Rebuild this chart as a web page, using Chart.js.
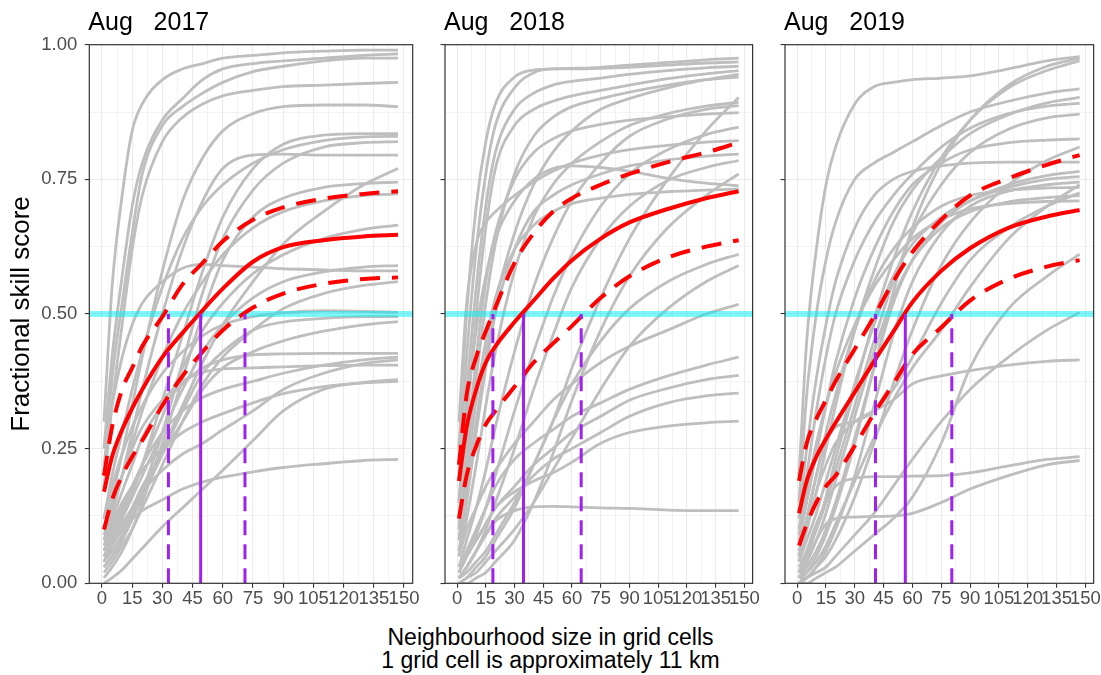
<!DOCTYPE html>
<html>
<head>
<meta charset="utf-8">
<title>Fractional skill score by neighbourhood size</title>
<script src="https://cdn.jsdelivr.net/npm/chart.js@4.4.1/dist/chart.umd.min.js"></script>
<style>
  html, body { margin: 0; padding: 0; background: #ffffff; }
  body { position: relative; width: 1101px; height: 675px; overflow: hidden;
         font-family: "Liberation Sans", Arial, sans-serif; }
  canvas { position: absolute; top: 0; }
  #x-title { position: absolute; left: 0; top: 626px; width: 1101px; text-align: center;
             font-size: 23px; line-height: 23px; color: #000000; }
</style>
</head>
<body>
<canvas id="panel2017" width="420" height="620" style="left:0px"></canvas>
<canvas id="panel2018" width="330" height="620" style="left:430px"></canvas>
<canvas id="panel2019" width="331" height="620" style="left:770px"></canvas>
<div id="x-title">Neighbourhood size in grid cells<br>1 grid cell is approximately 11 km</div>
<script>
(function () {
  "use strict";

  /* ===== Data ===== */
  // neighbourhood sizes where every curve is sampled
  var X_CELLS = [1, 5, 10, 15, 20, 30, 40, 50, 60, 75, 90, 110, 130, 147];
  var X_BREAKS = [0, 15, 30, 45, 60, 75, 90, 105, 120, 135, 150];
  var Y_BREAKS = [0, 0.25, 0.5, 0.75, 1];
  var PANEL_TITLES = ["Aug   2017", "Aug   2018", "Aug   2019"];
  var FSS_TARGET = 0.5;

  // single cases (grey)
  var GREY_2017 = [
    [0.30, 0.55, 0.72, 0.84, 0.89, 0.935, 0.955, 0.965, 0.975, 0.98, 0.985, 0.988, 0.99, 0.99],
    [0.25, 0.42, 0.57, 0.70, 0.78, 0.86, 0.90, 0.935, 0.955, 0.965, 0.97, 0.975, 0.98, 0.983],
    [0.20, 0.38, 0.52, 0.65, 0.76, 0.85, 0.885, 0.91, 0.93, 0.95, 0.96, 0.97, 0.975, 0.975],
    [0.18, 0.33, 0.48, 0.62, 0.72, 0.82, 0.865, 0.89, 0.905, 0.915, 0.922, 0.925, 0.928, 0.93],
    [0.10, 0.16, 0.24, 0.33, 0.42, 0.58, 0.71, 0.79, 0.84, 0.872, 0.885, 0.888, 0.888, 0.885],
    [0.05, 0.08, 0.12, 0.17, 0.22, 0.34, 0.46, 0.58, 0.68, 0.77, 0.815, 0.832, 0.835, 0.835],
    [0.12, 0.20, 0.28, 0.36, 0.43, 0.55, 0.64, 0.70, 0.74, 0.78, 0.805, 0.822, 0.829, 0.83],
    [0.03, 0.05, 0.08, 0.12, 0.17, 0.28, 0.41, 0.54, 0.64, 0.73, 0.78, 0.81, 0.818, 0.82],
    [0.08, 0.13, 0.20, 0.28, 0.36, 0.50, 0.62, 0.71, 0.77, 0.795, 0.797, 0.795, 0.795, 0.795],
    [0.04, 0.06, 0.09, 0.13, 0.17, 0.25, 0.33, 0.41, 0.48, 0.56, 0.63, 0.69, 0.74, 0.77],
    [0.01, 0.03, 0.06, 0.10, 0.15, 0.26, 0.38, 0.50, 0.60, 0.68, 0.715, 0.735, 0.742, 0.745],
    [0.09, 0.14, 0.20, 0.26, 0.32, 0.42, 0.50, 0.56, 0.61, 0.66, 0.69, 0.71, 0.72, 0.723],
    [0.06, 0.09, 0.13, 0.17, 0.22, 0.31, 0.40, 0.47, 0.52, 0.575, 0.61, 0.64, 0.657, 0.665],
    [0.22, 0.33, 0.42, 0.48, 0.52, 0.56, 0.585, 0.592, 0.59, 0.587, 0.584, 0.582, 0.58, 0.58],
    [0.05, 0.08, 0.12, 0.16, 0.20, 0.28, 0.36, 0.43, 0.48, 0.53, 0.56, 0.578, 0.587, 0.59],
    [0.02, 0.04, 0.07, 0.10, 0.14, 0.22, 0.30, 0.37, 0.42, 0.47, 0.51, 0.538, 0.553, 0.56],
    [0.12, 0.18, 0.24, 0.29, 0.33, 0.39, 0.43, 0.46, 0.48, 0.495, 0.502, 0.506, 0.505, 0.503],
    [0.03, 0.05, 0.08, 0.12, 0.16, 0.24, 0.32, 0.39, 0.43, 0.47, 0.485, 0.492, 0.495, 0.495],
    [0.04, 0.07, 0.10, 0.14, 0.18, 0.24, 0.30, 0.36, 0.40, 0.43, 0.45, 0.468, 0.48, 0.486],
    [0.08, 0.12, 0.17, 0.22, 0.27, 0.33, 0.37, 0.40, 0.415, 0.424, 0.426, 0.427, 0.427, 0.427],
    [0.06, 0.10, 0.14, 0.18, 0.22, 0.28, 0.32, 0.345, 0.36, 0.375, 0.39, 0.405, 0.415, 0.42],
    [0.05, 0.08, 0.11, 0.14, 0.17, 0.21, 0.24, 0.26, 0.285, 0.32, 0.36, 0.39, 0.408, 0.415],
    [0.10, 0.15, 0.20, 0.25, 0.29, 0.34, 0.375, 0.392, 0.398, 0.40, 0.402, 0.404, 0.405, 0.405],
    [0.00, 0.01, 0.025, 0.045, 0.065, 0.105, 0.14, 0.175, 0.21, 0.265, 0.32, 0.36, 0.373, 0.378],
    [0.07, 0.11, 0.15, 0.18, 0.21, 0.25, 0.28, 0.30, 0.315, 0.335, 0.352, 0.365, 0.372, 0.375],
    [0.04, 0.07, 0.10, 0.12, 0.135, 0.155, 0.175, 0.188, 0.197, 0.207, 0.215, 0.222, 0.228, 0.23]
  ];
  var MEAN_2017 = [0.17, 0.235, 0.285, 0.325, 0.36, 0.42, 0.465, 0.507, 0.547, 0.597, 0.624, 0.637, 0.644, 0.647];
  var UPPER_2017 = [0.20, 0.29, 0.36, 0.40, 0.44, 0.495, 0.555, 0.595, 0.635, 0.675, 0.698, 0.714, 0.723, 0.728];
  var LOWER_2017 = [0.10, 0.155, 0.20, 0.235, 0.265, 0.33, 0.385, 0.43, 0.47, 0.512, 0.538, 0.556, 0.565, 0.568];
  var CROSS_2017 = [33, 49, 71];

  var GREY_2018 = [
    [0.25, 0.50, 0.70, 0.82, 0.89, 0.94, 0.953, 0.955, 0.956, 0.958, 0.962, 0.967, 0.972, 0.975],
    [0.20, 0.42, 0.62, 0.76, 0.85, 0.92, 0.948, 0.955, 0.955, 0.956, 0.958, 0.962, 0.966, 0.968],
    [0.15, 0.35, 0.55, 0.70, 0.80, 0.88, 0.91, 0.925, 0.932, 0.938, 0.945, 0.952, 0.957, 0.96],
    [0.12, 0.30, 0.50, 0.66, 0.77, 0.85, 0.88, 0.895, 0.905, 0.915, 0.925, 0.937, 0.946, 0.952],
    [0.08, 0.18, 0.30, 0.42, 0.52, 0.65, 0.74, 0.80, 0.84, 0.88, 0.90, 0.92, 0.935, 0.945],
    [0.10, 0.22, 0.38, 0.52, 0.63, 0.76, 0.83, 0.865, 0.885, 0.90, 0.912, 0.925, 0.935, 0.94],
    [0.00, 0.01, 0.03, 0.05, 0.08, 0.14, 0.22, 0.30, 0.40, 0.53, 0.64, 0.75, 0.84, 0.902],
    [0.05, 0.12, 0.22, 0.33, 0.43, 0.58, 0.68, 0.74, 0.78, 0.82, 0.85, 0.872, 0.886, 0.893],
    [0.03, 0.08, 0.14, 0.21, 0.29, 0.43, 0.55, 0.64, 0.71, 0.78, 0.83, 0.862, 0.88, 0.887],
    [0.10, 0.25, 0.42, 0.56, 0.65, 0.75, 0.80, 0.825, 0.84, 0.852, 0.86, 0.866, 0.871, 0.874],
    [0.02, 0.05, 0.09, 0.14, 0.20, 0.32, 0.43, 0.53, 0.61, 0.70, 0.76, 0.805, 0.833, 0.847],
    [0.30, 0.52, 0.63, 0.67, 0.69, 0.72, 0.745, 0.765, 0.78, 0.795, 0.805, 0.813, 0.819, 0.822],
    [0.06, 0.15, 0.28, 0.40, 0.50, 0.62, 0.69, 0.72, 0.74, 0.76, 0.775, 0.786, 0.793, 0.797],
    [0.01, 0.03, 0.06, 0.10, 0.15, 0.25, 0.36, 0.46, 0.55, 0.64, 0.70, 0.748, 0.772, 0.785],
    [0.00, 0.00, 0.01, 0.02, 0.04, 0.08, 0.15, 0.24, 0.34, 0.47, 0.57, 0.66, 0.72, 0.76],
    [0.15, 0.32, 0.47, 0.57, 0.64, 0.71, 0.75, 0.77, 0.775, 0.772, 0.765, 0.752, 0.743, 0.738],
    [0.08, 0.20, 0.34, 0.45, 0.53, 0.62, 0.665, 0.69, 0.705, 0.715, 0.722, 0.727, 0.73, 0.732],
    [0.01, 0.02, 0.04, 0.06, 0.09, 0.15, 0.22, 0.30, 0.37, 0.45, 0.51, 0.56, 0.592, 0.611],
    [0.00, 0.01, 0.02, 0.04, 0.06, 0.10, 0.15, 0.21, 0.27, 0.36, 0.44, 0.51, 0.56, 0.59],
    [0.05, 0.10, 0.14, 0.18, 0.21, 0.26, 0.30, 0.34, 0.37, 0.41, 0.44, 0.47, 0.50, 0.518],
    [0.03, 0.06, 0.10, 0.14, 0.18, 0.23, 0.26, 0.285, 0.31, 0.335, 0.36, 0.385, 0.405, 0.42],
    [0.02, 0.05, 0.08, 0.11, 0.14, 0.18, 0.22, 0.25, 0.28, 0.31, 0.34, 0.362, 0.378, 0.386],
    [0.01, 0.03, 0.06, 0.09, 0.12, 0.16, 0.20, 0.23, 0.25, 0.28, 0.31, 0.335, 0.348, 0.353],
    [0.02, 0.05, 0.08, 0.11, 0.14, 0.17, 0.19, 0.205, 0.225, 0.26, 0.28, 0.292, 0.298, 0.301],
    [0.01, 0.03, 0.06, 0.09, 0.115, 0.135, 0.142, 0.143, 0.142, 0.14, 0.139, 0.136, 0.135, 0.135]
  ];
  var MEAN_2018 = [0.19, 0.29, 0.36, 0.41, 0.44, 0.485, 0.525, 0.565, 0.60, 0.64, 0.67, 0.695, 0.715, 0.728];
  var UPPER_2018 = [0.22, 0.35, 0.42, 0.468, 0.512, 0.595, 0.65, 0.69, 0.715, 0.74, 0.76, 0.782, 0.80, 0.818];
  var LOWER_2018 = [0.12, 0.20, 0.255, 0.295, 0.32, 0.365, 0.41, 0.445, 0.478, 0.53, 0.57, 0.605, 0.625, 0.637];
  var CROSS_2018 = [18.7, 34.7, 64.8];

  var GREY_2019 = [
    [0.20, 0.45, 0.62, 0.74, 0.81, 0.89, 0.922, 0.93, 0.935, 0.938, 0.942, 0.955, 0.97, 0.978],
    [0.15, 0.35, 0.50, 0.60, 0.67, 0.75, 0.78, 0.80, 0.82, 0.85, 0.875, 0.895, 0.91, 0.918],
    [0.00, 0.02, 0.05, 0.09, 0.14, 0.26, 0.40, 0.54, 0.66, 0.78, 0.86, 0.925, 0.96, 0.975],
    [0.02, 0.05, 0.10, 0.16, 0.23, 0.36, 0.49, 0.60, 0.69, 0.79, 0.86, 0.92, 0.952, 0.97],
    [0.05, 0.10, 0.17, 0.25, 0.33, 0.47, 0.58, 0.67, 0.73, 0.79, 0.835, 0.87, 0.892, 0.902],
    [0.10, 0.20, 0.32, 0.42, 0.50, 0.60, 0.67, 0.72, 0.76, 0.81, 0.845, 0.872, 0.886, 0.891],
    [0.03, 0.06, 0.10, 0.15, 0.21, 0.33, 0.45, 0.56, 0.65, 0.74, 0.80, 0.843, 0.864, 0.871],
    [0.08, 0.15, 0.24, 0.33, 0.41, 0.53, 0.62, 0.69, 0.74, 0.78, 0.805, 0.818, 0.823, 0.825],
    [0.00, 0.01, 0.03, 0.05, 0.08, 0.16, 0.26, 0.37, 0.47, 0.59, 0.67, 0.74, 0.785, 0.81],
    [0.12, 0.25, 0.38, 0.48, 0.56, 0.66, 0.72, 0.75, 0.765, 0.775, 0.78, 0.782, 0.782, 0.782],
    [0.01, 0.03, 0.06, 0.10, 0.15, 0.27, 0.40, 0.52, 0.60, 0.67, 0.71, 0.74, 0.757, 0.765],
    [0.04, 0.08, 0.13, 0.19, 0.25, 0.37, 0.48, 0.57, 0.63, 0.68, 0.71, 0.735, 0.75, 0.755],
    [0.00, 0.01, 0.03, 0.06, 0.10, 0.20, 0.33, 0.46, 0.56, 0.65, 0.70, 0.728, 0.74, 0.745],
    [0.06, 0.12, 0.20, 0.28, 0.35, 0.47, 0.56, 0.62, 0.66, 0.70, 0.72, 0.73, 0.734, 0.735],
    [0.02, 0.04, 0.08, 0.13, 0.19, 0.31, 0.43, 0.53, 0.60, 0.66, 0.69, 0.708, 0.716, 0.72],
    [0.09, 0.17, 0.26, 0.33, 0.39, 0.48, 0.55, 0.60, 0.64, 0.675, 0.695, 0.705, 0.709, 0.71],
    [0.05, 0.12, 0.20, 0.26, 0.29, 0.30, 0.32, 0.36, 0.42, 0.52, 0.60, 0.66, 0.70, 0.725],
    [0.01, 0.02, 0.04, 0.07, 0.11, 0.19, 0.27, 0.34, 0.40, 0.47, 0.55, 0.64, 0.70, 0.74],
    [0.00, 0.00, 0.01, 0.02, 0.03, 0.06, 0.09, 0.12, 0.16, 0.26, 0.40, 0.51, 0.57, 0.611],
    [0.00, 0.01, 0.02, 0.03, 0.05, 0.09, 0.13, 0.18, 0.23, 0.30, 0.36, 0.42, 0.47, 0.503],
    [0.04, 0.10, 0.17, 0.22, 0.26, 0.30, 0.32, 0.34, 0.37, 0.385, 0.395, 0.405, 0.412, 0.415],
    [0.02, 0.06, 0.11, 0.15, 0.18, 0.195, 0.198, 0.198, 0.199, 0.20, 0.205, 0.218, 0.23, 0.235],
    [0.01, 0.04, 0.08, 0.11, 0.12, 0.123, 0.124, 0.125, 0.13, 0.15, 0.175, 0.20, 0.22, 0.228]
  ];
  var MEAN_2019 = [0.13, 0.19, 0.235, 0.268, 0.298, 0.355, 0.412, 0.467, 0.522, 0.58, 0.622, 0.66, 0.681, 0.693];
  var UPPER_2019 = [0.19, 0.26, 0.305, 0.34, 0.375, 0.435, 0.495, 0.56, 0.615, 0.675, 0.72, 0.752, 0.777, 0.795];
  var LOWER_2019 = [0.07, 0.11, 0.15, 0.18, 0.20, 0.255, 0.315, 0.37, 0.425, 0.475, 0.525, 0.565, 0.588, 0.60];
  var CROSS_2019 = [40.8, 56.3, 80.5];

  /* ===== Styling (ggplot theme_bw look) ===== */
  var FONT = "'Liberation Sans', Arial, sans-serif";
  var COLOR_MEMBER = "#BEBEBE";
  var COLOR_MEAN = "#FF0000";
  var COLOR_CROSS = "#A020F0";
  var COLOR_TARGET = "rgba(0, 240, 245, 0.5)";
  var COLOR_GRID = "#EBEBEB";
  var COLOR_FRAME = "#333333";
  var COLOR_TICK_TEXT = "#4D4D4D";
  var TICK_FONT_SIZE = 18.5;
  var STRIP_FONT_SIZE = 25;
  var Y_TITLE_FONT_SIZE = 26;

  var X_MIN = -6.3;
  var X_MAX = 154.3;
  var CANVAS_H = 620;
  var PLOT_TOP = 44.7;
  var PLOT_BOTTOM = 583.3;
  var TICK_LEN = 4.5;

  Chart.defaults.font.family = FONT;

  function midpoints(breaks) {
    var out = [];
    for (var i = 0; i < breaks.length - 1; i++) out.push((breaks[i] + breaks[i + 1]) / 2);
    return out;
  }

  var X_ALL = X_BREAKS.concat(midpoints(X_BREAKS)).sort(function (a, b) { return a - b; });
  var Y_ALL = Y_BREAKS.concat(midpoints(Y_BREAKS)).sort(function (a, b) { return a - b; });

  function isBreak(list, v) {
    for (var i = 0; i < list.length; i++) if (Math.abs(list[i] - v) < 1e-9) return true;
    return false;
  }

  function toPoints(values) {
    return values.map(function (v, i) { return { x: X_CELLS[i], y: v }; });
  }

  /* ===== Plugins: strip title and panel frame ===== */
  var stripTitle = {
    id: "stripTitle",
    afterDraw: function (chart, args, opts) {
      var ctx = chart.ctx;
      ctx.save();
      ctx.font = STRIP_FONT_SIZE + "px " + FONT;
      ctx.fillStyle = "#000000";
      ctx.textBaseline = "alphabetic";
      ctx.textAlign = "left";
      ctx.fillText(opts.text, chart.chartArea.left - 1, 29.5);
      ctx.restore();
    }
  };

  var panelFrame = {
    id: "panelFrame",
    afterDatasetsDraw: function (chart) {
      var a = chart.chartArea;
      var ctx = chart.ctx;
      ctx.save();
      ctx.strokeStyle = COLOR_FRAME;
      ctx.lineWidth = 1.2;
      ctx.strokeRect(a.left, a.top, a.right - a.left, a.bottom - a.top);
      ctx.restore();
    }
  };

  /* ===== Panels ===== */
  function buildDatasets(grey, mean, upper, lower, cross) {
    var sets = [];
    grey.forEach(function (row) {
      sets.push({
        data: toPoints(row),
        borderColor: COLOR_MEMBER,
        borderWidth: 2.8,
        cubicInterpolationMode: "monotone",
        order: 4
      });
    });
    sets.push({
      data: [{ x: X_MIN, y: FSS_TARGET }, { x: X_MAX, y: FSS_TARGET }],
      borderColor: COLOR_TARGET,
      borderWidth: 6,
      order: 3
    });
    [upper, lower].forEach(function (row) {
      sets.push({
        data: toPoints(row),
        borderColor: COLOR_MEAN,
        borderWidth: 4,
        borderDash: [20, 12],
        cubicInterpolationMode: "monotone",
        order: 2
      });
    });
    sets.push({
      data: toPoints(mean),
      borderColor: COLOR_MEAN,
      borderWidth: 4,
      cubicInterpolationMode: "monotone",
      order: 2
    });
    cross.forEach(function (x, i) {
      sets.push({
        data: [{ x: x, y: 0 }, { x: x, y: FSS_TARGET }],
        borderColor: COLOR_CROSS,
        borderWidth: 3,
        borderDash: i === 1 ? [] : [15, 9],
        order: 1
      });
    });
    return sets;
  }

  function makePanel(canvasId, title, datasets, yAxisWidth, padRight, showY) {
    var el = document.getElementById(canvasId);
    return new Chart(el.getContext("2d"), {
      type: "line",
      data: { datasets: datasets },
      plugins: [stripTitle, panelFrame],
      options: {
        responsive: false,
        animation: false,
        events: [],
        layout: { padding: { top: PLOT_TOP, right: padRight, bottom: 0, left: 0 } },
        elements: {
          point: { radius: 0 },
          line: { borderCapStyle: "butt", borderJoinStyle: "round", fill: false }
        },
        plugins: {
          legend: { display: false },
          tooltip: { enabled: false },
          stripTitle: { text: title }
        },
        scales: {
          x: {
            type: "linear",
            min: X_MIN,
            max: X_MAX,
            afterBuildTicks: function (scale) {
              scale.ticks = X_ALL.map(function (v) { return { value: v }; });
            },
            afterFit: function (scale) { scale.height = CANVAS_H - PLOT_BOTTOM; },
            border: { display: false },
            grid: {
              color: COLOR_GRID,
              lineWidth: function (c) { return c.tick && isBreak(X_BREAKS, c.tick.value) ? 1.1 : 0.6; },
              tickLength: TICK_LEN,
              tickWidth: 1.1,
              tickColor: function (c) { return c.tick && isBreak(X_BREAKS, c.tick.value) ? COLOR_FRAME : "rgba(0,0,0,0)"; }
            },
            ticks: {
              autoSkip: false,
              maxRotation: 0,
              minRotation: 0,
              padding: 0,
              color: COLOR_TICK_TEXT,
              font: { size: TICK_FONT_SIZE },
              callback: function (v) { return isBreak(X_BREAKS, v) ? String(v) : ""; }
            }
          },
          y: {
            type: "linear",
            min: 0,
            max: 1,
            afterBuildTicks: function (scale) {
              scale.ticks = Y_ALL.map(function (v) { return { value: v }; });
            },
            afterFit: function (scale) { scale.width = yAxisWidth; },
            border: { display: false },
            title: {
              display: showY,
              text: "Fractional skill score",
              color: "#000000",
              font: { size: Y_TITLE_FONT_SIZE },
              padding: { top: 6, bottom: 0 }
            },
            grid: {
              color: COLOR_GRID,
              lineWidth: function (c) { return c.tick && isBreak(Y_BREAKS, c.tick.value) ? 1.1 : 0.6; },
              tickLength: TICK_LEN,
              tickWidth: 1.1,
              tickColor: function (c) { return c.tick && isBreak(Y_BREAKS, c.tick.value) ? COLOR_FRAME : "rgba(0,0,0,0)"; }
            },
            ticks: {
              autoSkip: false,
              padding: 7.5,
              color: COLOR_TICK_TEXT,
              font: { size: TICK_FONT_SIZE },
              callback: function (v) {
                return showY && isBreak(Y_BREAKS, v) ? v.toFixed(2) : "";
              }
            }
          }
        }
      }
    });
  }

  makePanel("panel2017", PANEL_TITLES[0],
    buildDatasets(GREY_2017, MEAN_2017, UPPER_2017, LOWER_2017, CROSS_2017), 89.3, 7.3, true);
  makePanel("panel2018", PANEL_TITLES[1],
    buildDatasets(GREY_2018, MEAN_2018, UPPER_2018, LOWER_2018, CROSS_2018), 15, 7.3, false);
  makePanel("panel2019", PANEL_TITLES[2],
    buildDatasets(GREY_2019, MEAN_2019, UPPER_2019, LOWER_2019, CROSS_2019), 15, 7, false);
})();
</script>
</body>
</html>
